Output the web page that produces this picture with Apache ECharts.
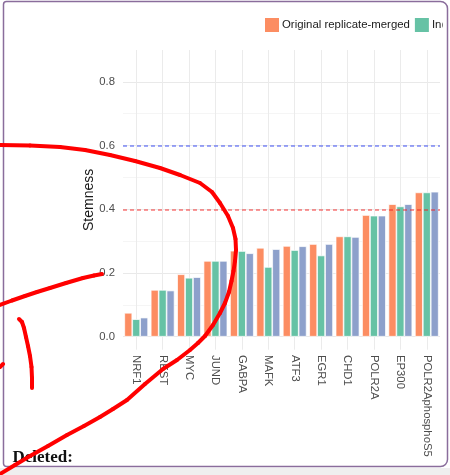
<!DOCTYPE html>
<html>
<head>
<meta charset="utf-8">
<script src="https://cdn.jsdelivr.net/npm/echarts@6/dist/echarts.min.js"></script>
<style>
html,body{margin:0;padding:0;background:#fff;}
#chart{width:450px;height:475px;}
</style>
</head>
<body>
<div id="chart"></div>
<script>
const categories = ['NRF1','REST','MYC','JUND','GABPA','MAFK','ATF3','EGR1','CHD1','POLR2A','EP300','POLR2AphosphoS5'];
const seriesNames = ['Original replicate-merged','Individual replicate 1','Individual replicate 2'];
const originalMerged = [0.075,0.147,0.196,0.238,0.270,0.279,0.285,0.291,0.315,0.382,0.416,0.453];
const replicateA     = [0.055,0.147,0.185,0.238,0.269,0.219,0.272,0.255,0.315,0.380,0.409,0.453];
const replicateB     = [0.060,0.145,0.187,0.238,0.262,0.275,0.284,0.291,0.313,0.380,0.416,0.455];
const yTickLabels = ['0.0','0.2','0.4','0.6','0.8'];
const refLineValues = [0.6, 0.4];
const refLineColors = ['rgba(40,60,245,0.6)','rgba(245,30,30,0.6)'];
const colors = ['#FC8D62','#66C2A5','#8DA0CB'];

const chart = echarts.init(document.getElementById('chart'), null, {renderer:'canvas'});
const font = 'Liberation Sans, Arial, sans-serif';

function barSeries(name, data, color, withRefs){
  const s = {
    name: name, type: 'bar', data: data,
    barGap: '0%', barCategoryGap: '10%',
    itemStyle: {color: color, borderColor: '#ffffff', borderWidth: 0.7},
    emphasis: {disabled: true},
    animation: false
  };
  if (withRefs) {
    s.markLine = {
      silent: true, symbol: ['none','none'], label: {show:false},
      animation: false,
      data: refLineValues.map((v,i)=>({yAxis: v, lineStyle:{color: refLineColors[i], type:[4,3], width:1.6}}))
    };
  }
  return s;
}

const scribbleStyle = {stroke:'#ff0000', lineWidth:4, lineCap:'round'};
const bigScribble = [[0,145],[30,145.5],[60,147],[85,150],[110,155],[135,161],[160,168],[180,175],[200,183],[212,192],[220,203],[228,216],[233,228],[235.5,239],[236,250],[235,261],[233.5,271],[231.5,281],[229,292],[225,303],[220,313],[213,325],[205,336],[198,343],[190,350],[177,360],[163,369],[145,384],[127,400],[113,409],[100,417],[84,426],[67,435],[48,446],[30,456],[15,465],[0,474]];
const midScribble = [[0,305],[12,300.5],[25,296],[37,292],[50,288],[66,283],[83,278],[94,275.5],[102,274]];
const tickScribble = [[19,319],[22,322],[24,328],[26,337],[28,346],[30,356],[31.5,367],[32,378],[32,388]];
const edgeScribble = [[0,367],[3,364]];

function segments(pts){
  const out = [];
  for (let i = 1; i < pts.length; i++) {
    out.push({type:'line', z:100, silent:true,
      shape:{x1:pts[i-1][0], y1:pts[i-1][1], x2:pts[i][0], y2:pts[i][1]},
      style: scribbleStyle});
  }
  return out;
}

chart.setOption({
  animation: false,
  textStyle: {fontFamily: font},
  legend: {
    data: seriesNames.slice(0,2),
    left: 263, top: 16, width: 1000, padding: 0,
    itemWidth: 16, itemHeight: 16, itemGap: 3,
    icon: 'rect',
    selectedMode: false,
    textStyle: {fontSize: 11.4, color: '#1a1a1a', fontFamily: font, padding: [0,0,0,-3]}
  },
  grid: {left: 123, right: 10, top: 50, bottom: 138.3, containLabel: false},
  xAxis: {
    type: 'category', data: categories,
    axisLine: {show: false},
    axisTick: {show: true, alignWithLabel: true, length: 13, lineStyle: {color: '#ebebeb', width: 1}},
    splitLine: {show: true, alignWithLabel: true, lineStyle: {color: '#ebebeb', width: 1}},
    axisLabel: {rotate: -90, margin: 18.3, fontSize: 11.3, color: '#4d4d4d', fontFamily: font, interval: 0}
  },
  yAxis: {
    type: 'value', min: 0, max: 0.9, interval: 0.1,
    name: 'Stemness', nameLocation: 'middle', nameGap: 27, nameMoveOverlap: false,
    nameTextStyle: {fontSize: 14, color: '#1a1a1a', fontFamily: font, padding: [0, 13, 0, 0]},
    axisLine: {show: false}, axisTick: {show: false},
    axisLabel: {
      margin: 8, fontSize: 11.3, color: '#4d4d4d', fontFamily: font,
      formatter: function(v){
        const lbl = v.toFixed(1);
        return yTickLabels.indexOf(lbl) >= 0 ? lbl : '';
      }
    },
    splitLine: {show: true, showMaxLine: false, lineStyle: {color: ['#e9e9e9','#f5f5f5'], width: 1}}
  },
  series: [
    barSeries(seriesNames[0], originalMerged, colors[0], true),
    barSeries(seriesNames[1], replicateA, colors[1], false),
    barSeries(seriesNames[2], replicateB, colors[2], false)
  ],
  graphic: [
    {type:'rect', z: 90, silent:true, shape:{x:442.6, y:0, width:7.4, height:468}, style:{fill:'#ffffff'}},
    {type:'rect', z: 90, silent:true, shape:{x:0, y:468, width:450, height:7}, style:{fill:'#efefef'}},
    {type:'rect', z: 95, silent:true, shape:{x:3.5, y:1.5, width:444, height:465, r:[3,7,7,3]}, style:{fill:null, stroke:'#8a6d9c', lineWidth:1.5}},
    {type:'text', z: 95, silent:true, x: 12.5, y: 458, style:{text:'Deleted:', fontFamily:'Liberation Serif, Times New Roman, serif', fontWeight:'bold', fontSize:17, fill:'#111', verticalAlign:'middle'}}
  ].concat(segments(bigScribble), segments(midScribble), segments(tickScribble), segments(edgeScribble))
});
</script>
</body>
</html>
